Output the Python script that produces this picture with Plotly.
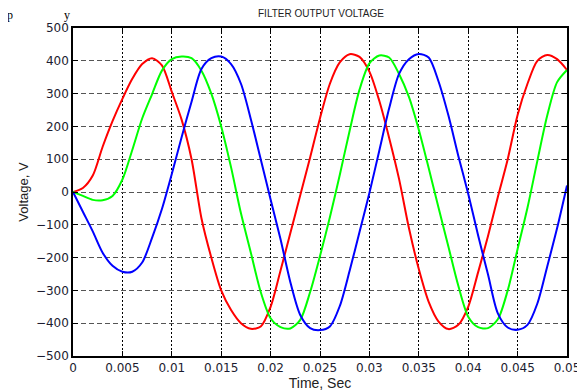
import plotly.graph_objects as go

t = [i * 0.001 for i in range(51)]

red = [0, 12, 50, 138, 216, 284, 345, 390, 408, 386,
       305, 220, 100, -80, -200, -300, -360, -400, -417, -410,
       -350, -240, -125, -10, 105, 225, 330, 395, 420, 412,
       367, 278, 165, 40, -110, -235, -335, -395, -418, -405,
       -350, -245, -135, -15, 100, 235, 330, 400, 418, 405,
       372]

green = [0, -12, -24, -25, -12, 38, 128, 224, 298, 370,
         405, 413, 408, 370, 300, 200, 75, -65, -185, -305,
         -385, -412, -416, -390, -305, -195, -77, 52, 187, 312,
         392, 416, 410, 360, 290, 190, 73, -48, -167, -286,
         -380, -412, -415, -388, -300, -174, -48, 95, 233, 335,
         372]

blue = [0, -60, -120, -185, -225, -243, -243, -215, -140, -52,
        55, 168, 275, 375, 408, 413, 390, 330, 222, 100,
        -23, -143, -275, -375, -415, -421, -410, -348, -240, -122,
        -3, 126, 255, 360, 405, 421, 410, 337, 233, 110,
        -5, -132, -251, -370, -413, -420, -405, -340, -227, -110,
        20]

x_ticks = [0, 0.005, 0.01, 0.015, 0.02, 0.025, 0.03, 0.035, 0.04, 0.045, 0.05]
x_labels = ["0", "0.005", "0.01", "0.015", "0.02", "0.025", "0.03", "0.035", "0.04", "0.045", "0.05"]
y_ticks = list(range(-500, 501, 100))

# the page body has an 8px offset, so the figure is sized to fit the window
W, H = 577, 384
OFF = 8

fig = go.Figure()
for ys, col in [(red, "#ff0000"), (green, "#00ff00"), (blue, "#0000ff")]:
    fig.add_trace(go.Scatter(x=t, y=ys, mode="lines",
                             line=dict(color=col, width=2, shape="spline", smoothing=0.8),
                             showlegend=False))

tickfont = dict(family="DejaVu Sans, sans-serif", size=12, color="#1c1c30")
arial = "Arial, Liberation Sans, sans-serif"

fig.update_layout(
    width=W, height=H,
    margin=dict(l=73 - OFF, r=18, t=28 - OFF, b=36, autoexpand=False),
    paper_bgcolor="white", plot_bgcolor="white",
    title=dict(text="FILTER OUTPUT VOLTAGE", x=(321 - OFF) / W, xanchor="center",
               y=1 - (13 - OFF) / H, yanchor="middle", automargin=False,
               font=dict(family=arial, size=10, color="#222")),
    xaxis=dict(range=[0, 0.05], tickvals=x_ticks, ticktext=x_labels, tickfont=tickfont,
               showgrid=True, gridcolor="black", gridwidth=1, griddash="2px,2px",
               showline=True, linecolor="black", linewidth=1.5, mirror="ticks",
               ticks="inside", ticklen=5, tickcolor="black", zeroline=False, automargin=False,
               title=dict(text="Time, Sec", standoff=3,
                          font=dict(family=arial, size=14, color="#222"))),
    yaxis=dict(range=[-500, 500], tickvals=y_ticks, tickfont=tickfont,
               showgrid=True, gridcolor="#555", gridwidth=1, griddash="5px,3px",
               showline=True, linecolor="black", linewidth=1.5, mirror="ticks",
               ticks="inside", ticklen=5, tickcolor="black", zeroline=False, automargin=False,
               title=dict(text="Voltage, V", standoff=4,
                          font=dict(family=arial, size=13, color="#222"))),
)

for ch, xp in [("p", 10), ("y", 67)]:
    fig.add_annotation(text=ch, x=(xp - 73) / 494, y=1 + 13 / 328, xref="paper", yref="paper",
                       xanchor="center", yanchor="middle", showarrow=False,
                       font=dict(family="Liberation Serif, Times New Roman, serif", size=12, color="black"))

fig.write_html("out.html")
